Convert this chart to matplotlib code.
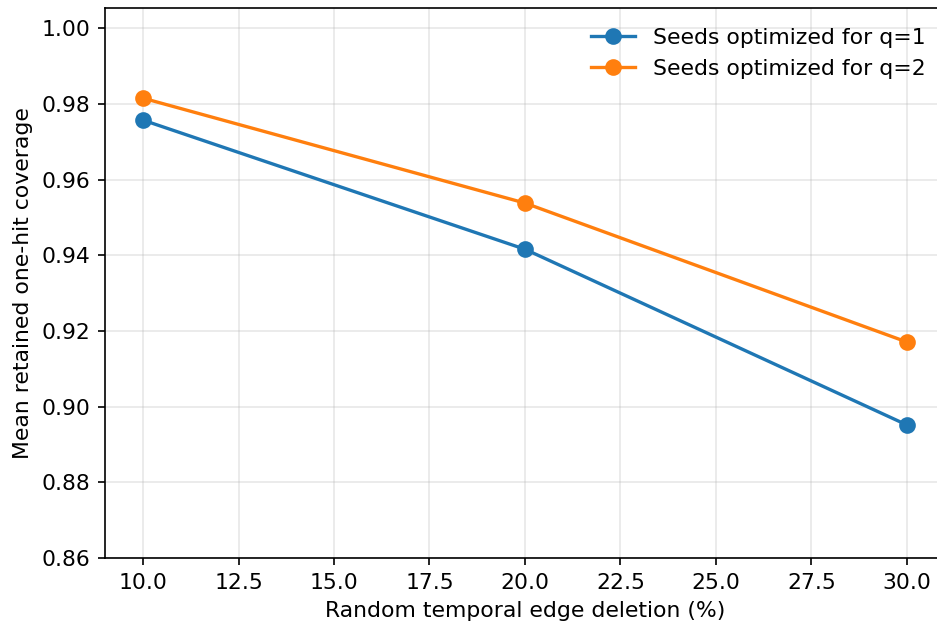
import matplotlib
matplotlib.use("Agg")
import matplotlib.pyplot as plt

# data
deletion_pct = [10, 20, 30]
cov_q1 = [0.9757, 0.9416, 0.8952]
cov_q2 = [0.9815, 0.9538, 0.9171]

plt.rcParams['font.size'] = 10.5

fig = plt.figure(figsize=(937 / 150, 625 / 150), dpi=150)
# right spine falls just outside the canvas, as in the reference
ax = fig.add_axes([0.112, 0.107, 0.8965, 0.880])

ax.plot(deletion_pct, cov_q1, marker='o', color='#1f77b4', linewidth=1.6, markersize=7,
        label='Seeds optimized for q=1')
ax.plot(deletion_pct, cov_q2, marker='o', color='#ff7f0e', linewidth=1.6, markersize=7,
        label='Seeds optimized for q=2')

ax.set_xlim(9.0, 31.0)
ax.set_ylim(0.86, 1.0053)
ax.set_xticks([10, 12.5, 15, 17.5, 20, 22.5, 25, 27.5, 30])
ax.set_yticks([0.86, 0.88, 0.90, 0.92, 0.94, 0.96, 0.98, 1.00])
ax.grid(True, alpha=0.3)
ax.set_axisbelow(True)
ax.set_xlabel('Random temporal edge deletion (%)')
ax.set_ylabel('Mean retained one-hit coverage')
ax.legend(frameon=False, loc='upper right')

fig.savefig('out.png', dpi=150)
